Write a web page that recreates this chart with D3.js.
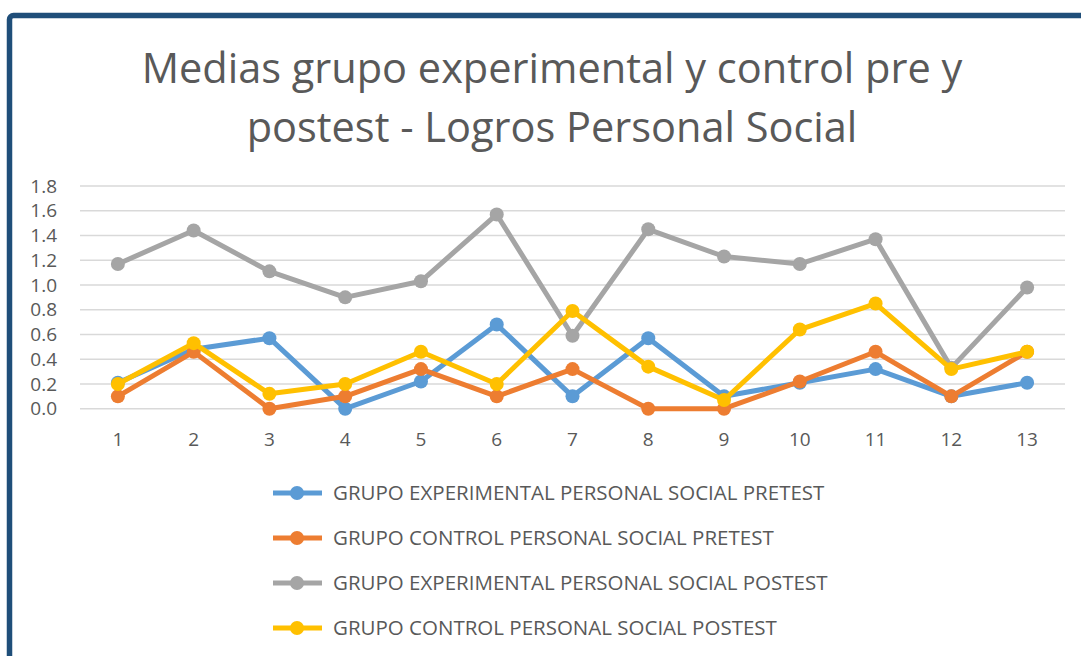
<!DOCTYPE html>
<html><head><meta charset="utf-8">
<script src="https://cdn.jsdelivr.net/npm/d3@7/dist/d3.min.js"></script>
<style>body{margin:0;background:#fff}svg{display:block}</style>
</head><body>
<script>
const categories = ["1","2","3","4","5","6","7","8","9","10","11","12","13"];
const seriesNames = [
  "GRUPO EXPERIMENTAL PERSONAL SOCIAL PRETEST",
  "GRUPO CONTROL PERSONAL SOCIAL PRETEST",
  "GRUPO EXPERIMENTAL PERSONAL SOCIAL POSTEST",
  "GRUPO CONTROL PERSONAL SOCIAL POSTEST"
];
const expPre  = [0.21,0.48,0.57,0.00,0.22,0.68,0.10,0.57,0.10,0.21,0.32,0.10,0.21];
const ctrlPre = [0.10,0.46,0.00,0.10,0.32,0.10,0.32,0.00,0.00,0.22,0.46,0.10,0.46];
const expPost = [1.17,1.44,1.11,0.90,1.03,1.57,0.59,1.45,1.23,1.17,1.37,0.33,0.98];
const ctrlPost= [0.20,0.53,0.12,0.20,0.46,0.20,0.79,0.34,0.07,0.64,0.85,0.32,0.46];
const yTicks = [0,0.2,0.4,0.6,0.8,1.0,1.2,1.4,1.6,1.8];
const colors = ["#5B9BD5","#ED7D31","#A5A5A5","#FFC000"];
const titleLines = ["Medias grupo experimental y control pre y","postest - Logros Personal Social"];

const W=1081,H=656;
const svg=d3.select("body").append("svg").attr("width",W).attr("height",H);
svg.append("rect").attr("x",9.5).attr("y",15.5).attr("width",1090).attr("height",700)
  .attr("rx",4).attr("fill","#fff").attr("stroke","#1F4E79").attr("stroke-width",5.5);

const font="'Open Sans', 'Liberation Sans', sans-serif";
svg.selectAll("text.title").data(titleLines).enter().append("text")
  .attr("x",552).attr("y",(d,i)=>83+i*59).attr("text-anchor","middle")
  .attr("font-family",font).attr("font-size",41.5).attr("fill","#595959").text(d=>d);

const x=d3.scaleBand().domain(categories).range([80,1065]);
const y=d3.scaleLinear().domain([0,1.8]).range([408.7,186]);

const g=svg.append("g");
g.selectAll("line.grid").data(yTicks).enter().append("line")
  .attr("x1",80).attr("x2",1065).attr("y1",d=>y(d)).attr("y2",d=>y(d))
  .attr("stroke","#D9D9D9").attr("stroke-width",1.5);

const yAxis=g.append("g").attr("transform","translate(57,0)")
  .call(d3.axisLeft(y).tickValues(yTicks).tickFormat(d3.format(".1f")).tickSize(0).tickPadding(0));
yAxis.select(".domain").remove();
yAxis.selectAll("text").attr("font-family",font).attr("font-size",19).attr("fill","#595959");

const xAxis=g.append("g").attr("transform","translate(0,432)")
  .call(d3.axisBottom(x).tickSize(0).tickPadding(0));
xAxis.select(".domain").remove();
xAxis.selectAll("text").attr("font-family",font).attr("font-size",19).attr("fill","#595959");

const data=[expPre,ctrlPre,expPost,ctrlPost];
const line=d3.line().x((d,i)=>x(categories[i])+x.bandwidth()/2).y(d=>y(d));
data.forEach((s,k)=>{
  const sg=g.append("g");
  sg.append("path").attr("d",line(s)).attr("fill","none").attr("stroke",colors[k])
    .attr("stroke-width",5).attr("stroke-linejoin","round");
  sg.selectAll("circle").data(s).enter().append("circle")
    .attr("cx",(d,i)=>x(categories[i])+x.bandwidth()/2).attr("cy",d=>y(d)).attr("r",7)
    .attr("fill",colors[k]);
});

const lg=svg.append("g");
seriesNames.forEach((n,k)=>{
  const yy=493+k*45;
  lg.append("line").attr("x1",273).attr("x2",322).attr("y1",yy).attr("y2",yy)
    .attr("stroke",colors[k]).attr("stroke-width",5);
  lg.append("circle").attr("cx",297).attr("cy",yy).attr("r",7).attr("fill",colors[k]);
  lg.append("text").attr("x",333).attr("y",yy).attr("dy","0.35em")
    .attr("font-family",font).attr("font-size",20.5).attr("fill","#595959").text(n);
});
</script>
</body></html>
